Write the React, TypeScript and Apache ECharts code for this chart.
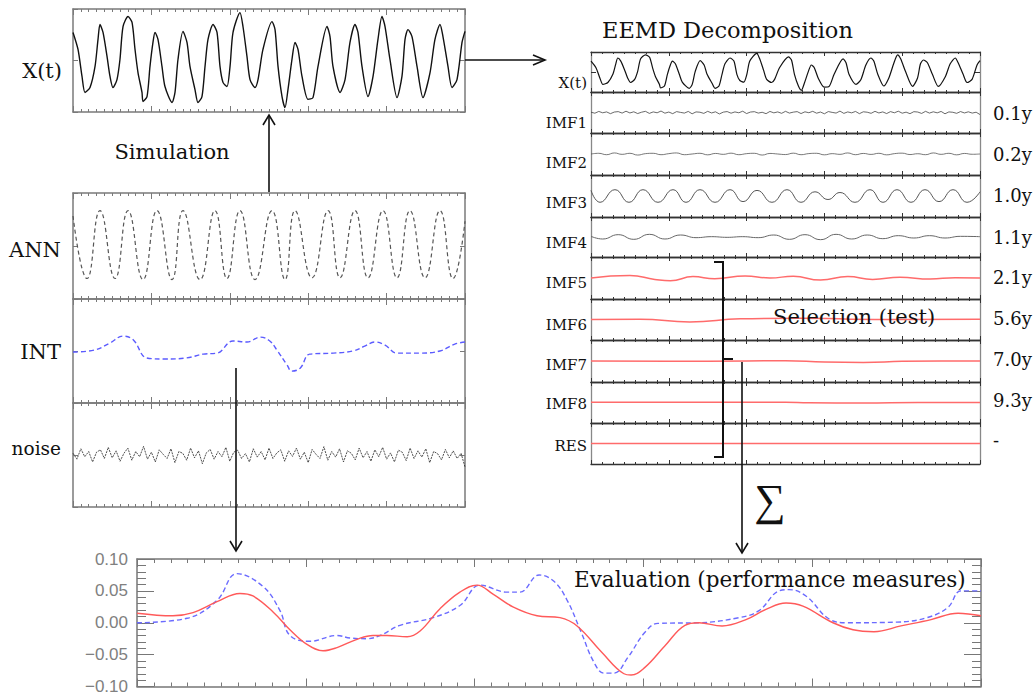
import React, { useEffect, useRef } from "react";
import * as echarts from "echarts";

// ---------- data (time axis 0..500 samples) ----------
const xtT = [0,6.4,11.5,15.3,21.7,28.1,31.9,34.4,38.3,43.4,47.2,51.0,56.1,59.9,63.8,70.2,75.3,79.1,82.9,88.0,89.3,94.4,98.2,102.0,104.6,108.4,113.5,117.3,126.3,130.1,133.9,140.3,145.4,149.2,155.6,159.4,164.5,168.4,172.2,178.6,183.7,187.5,191.3,196.4,200.3,204.1,213.0,216.8,221.9,225.8,232.1,236.0,242.3,253.8,257.7,261.5,266.6,270.4,274.2,279.3,283.2,287.0,292.1,299.7,306.1,312.5,324.0,327.8,331.6,340.6,347.0,353.3,359.7,363.5,368.6,376.3,382.7,389.0,394.1,398.0,404.3,413.3,419.6,423.5,427.3,432.4,438.8,446.4,455.4,461.7,468.1,471.9,478.3,483.4,489.8,496.2,500];
const xtV = [1.09,0.43,-0.62,-1.24,-1.05,-0.23,0.82,1.40,1.09,0.16,-0.62,-1.05,-0.74,0.04,1.32,1.71,1.48,0.43,-0.47,-1.24,-1.59,-1.40,-0.23,0.70,1.09,0.82,-0.23,-1.01,-1.63,-1.24,0.04,1.13,0.70,-0.23,-1.13,-1.63,-1.40,-0.23,0.82,1.40,1.09,-0.23,-0.85,-1.01,-0.23,1.09,1.86,1.32,0.16,-0.74,-1.05,-0.74,0.43,1.51,1.20,-0.23,-1.40,-1.83,-1.13,0.04,0.70,0.43,-0.62,-1.51,-1.44,-0.23,1.32,0.93,-0.23,-1.24,-0.74,0.70,1.40,1.09,-0.23,-1.40,-0.62,0.82,1.71,1.32,0.04,-1.44,-0.62,0.82,1.20,0.93,-0.23,-1.44,-0.47,0.82,1.40,0.93,-0.23,-1.05,-0.74,0.70,1.13];

const annT = [0,17.9,34.4,53.6,70.2,89.3,107.1,126.3,140.3,162.0,181.1,196.4,213.0,232.1,253.8,270.4,283.2,304.8,325.3,340.6,359.7,376.3,395.4,413.3,429.8,449.0,468.1,484.7,500];
const annV = [0.85,-0.92,1,-0.92,1,-0.95,1,-0.95,1,-0.95,1,-0.92,1,-0.95,1,-0.95,1,-0.9,1,-0.9,1,-0.9,1,-0.9,1,-0.9,1,-0.92,0.7];

const intT = [0,28,47,64,77,94,117,145,166,184,204,222,239,251,260,273,279,290,302,332,357,372,385,398,413,443,468,487,500];
const intV = [-0.03,0.03,0.23,0.43,0.32,-0.2,-0.23,-0.2,-0.09,-0.06,0.29,0.26,0.40,0.29,0.03,-0.40,-0.58,-0.49,-0.09,-0.06,0.0,0.14,0.26,0.17,-0.06,-0.06,0.0,0.2,0.26];

const noiseV = [0.05,-0.12,0.18,-0.05,0.1,-0.2,0.08,0.15,-0.1,0.22,-0.08,0.12,-0.18,0.05,0.2,-0.15,0.1,-0.05,0.25,-0.12,0.08,-0.2,0.15,0.02,-0.1,0.18,-0.22,0.1,0.05,-0.15,0.2,-0.08,0.12,-0.25,0.06,0.16,-0.12,0.1,-0.05,0.22,-0.18,0.08,0.14,-0.1,0.04,-0.2,0.18,-0.06,0.1,-0.14,0.2,-0.1,0.06,0.15,-0.18,0.12,-0.04,0.2,-0.12,0.08,-0.22,0.16,0.02,-0.1,0.24,-0.15,0.1,-0.06,0.18,-0.2,0.12,0.05,-0.14,0.2,-0.08,0.1,-0.18,0.15,-0.05,0.22,-0.12,0.06,-0.2,0.14,0.08,-0.16,0.2,-0.1,0.12,-0.06,0.18,-0.22,0.1,0.04,-0.14,0.16,-0.08,0.12,-0.1,0.05,-0.35];

const imf2V = [0,0.1,-0.1,0.15,-0.05,0.1,-0.15,0.05,0.1,-0.1,0.05,0.15,-0.1,0,0.1,-0.12,0.08,-0.05,0.12,-0.1,0.05,0.1,-0.15,0.08,0,-0.08,0.12,-0.1,0.06,0.1,-0.12,0.05,-0.05,0.15,-0.1,0.08,-0.06,0.1,-0.12,0.05,0.12,-0.08,0.04,-0.1,0.15,-0.05,0.1,-0.12,0.08,-0.04,0.0];

const imf3T = [0,11.6,30.8,48.8,66.8,86.1,105.4,122.1,140.1,159.4,178.7,195.4,213.4,232.6,251.9,269.9,287.9,304.6,320.0,339.3,358.6,375.3,393.3,411.3,429.3,447.3,465.3,483.3,500];
const imf3V = [0.8,-0.9,0.9,-0.9,0.9,-0.9,0.9,-0.9,0.9,-0.9,0.9,-0.8,0.8,-0.9,0.9,-0.9,0.6,-0.5,0.5,-0.9,0.9,-0.9,0.9,-0.9,0.9,-0.8,0.9,-0.9,0.6];

const imf4T = [0,15,35,55,75,95,115,135,155,175,195,215,235,255,275,295,315,335,355,375,395,415,435,455,475,500];
const imf4V = [0.1,-0.3,0.35,-0.35,0.4,-0.3,0.3,-0.1,0.05,-0.05,0.05,-0.1,0.3,-0.35,0.35,-0.4,0.4,-0.3,0.3,-0.25,0.2,-0.15,0.2,-0.15,0.1,0.05];

const imf5T = [0,50,82,102,131,159,198,230,260,295,330,362,397,436,468,500];
const imf5V = [0,0.35,-0.2,-0.4,0.2,-0.1,0.3,0.0,0.25,-0.3,0.2,-0.2,0.1,-0.15,0.05,0.0];
const imf6T = [0,63,127,192,269,333,397,500];
const imf6V = [0.0,0.05,-0.35,0.1,0.2,0.05,0.0,0.05];
const imf7T = [0,100,200,250,300,350,400,450,500];
const imf7V = [0,-0.05,0,0.05,-0.15,-0.2,-0.05,0,0];
const imf8T = [0,250,280,350,420,500];
const imf8V = [0.05,0.05,-0.05,-0.08,0,0];
const resT = [0,500];
const resV = [0,0];

const evalIntT = [0,29.6,47.4,59.2,74.6,84.7,90.6,102.5,118.5,126.2,136.3,144.0,155.8,175.4,191.3,203.2,219.2,226.9,238.2,247.0,254.7,263.0,270.7,276.7,282.6,290.9,300.9,308.6,332.9,356.6,368.5,380.3,386.3,396.3,410.5,420.6,450.2,468.0,480.4,488.1,500];
const evalIntV = [0.000,0.007,0.035,0.077,0.057,0.019,-0.020,-0.029,-0.020,-0.024,-0.025,-0.020,-0.004,0.008,0.027,0.059,0.048,0.048,0.075,0.065,0.036,-0.014,-0.062,-0.079,-0.079,-0.054,-0.015,-0.001,0.000,0.008,0.019,0.050,0.052,0.042,0.005,0.000,0.001,0.008,0.024,0.050,0.050];
const evalSelT = [0,21.3,33.2,47.4,61.0,68.7,80.6,90.6,100.7,110.2,118.5,130.3,139.8,148.1,160.0,167.7,179.5,191.3,201.4,210.9,222.7,237.0,250.6,260.7,274.9,288.5,292.7,300.9,312.8,324.6,332.9,346.6,360.8,372.6,384.5,394.5,412.3,424.2,436.6,452.6,470.4,486.4,500];
const evalSelV = [0.015,0.011,0.016,0.033,0.046,0.042,0.017,-0.011,-0.034,-0.044,-0.039,-0.026,-0.020,-0.020,-0.022,-0.013,0.022,0.048,0.059,0.045,0.025,0.011,0.008,-0.005,-0.045,-0.080,-0.082,-0.070,-0.036,-0.004,0.000,-0.005,0.005,0.021,0.031,0.026,0.000,-0.011,-0.014,-0.005,0.005,0.015,0.011];

const eemdLabels = ["X(t)", "IMF1", "IMF2", "IMF3", "IMF4", "IMF5", "IMF6", "IMF7", "IMF8", "RES"];
const periodLabels = ["0.1y", "0.2y", "1.0y", "1.1y", "2.1y", "5.6y", "7.0y", "9.3y", "-"];
const evalTicks = [-0.1, -0.05, 0, 0.05, 0.1];

const SERIF = "DejaVu Serif";
const SERIF2 = "Liberation Serif";
const SANS = "Liberation Sans";

const pairs = (t: number[], v: number[]) => t.map((x, i) => [x, v[i]]);
const byIndex = (v: number[]) => v.map((y, i) => [(i * 500) / (v.length - 1), y]);

export default function App() {
  const ref = useRef<HTMLDivElement>(null);
  useEffect(() => {
    document.body.style.margin = "0";
    const chart = echarts.init(ref.current!, null, { renderer: "svg" });
    const grid: any[] = [];
    const xAxis: any[] = [];
    const yAxis: any[] = [];
    const series: any[] = [];

    const addPanel = (p: any) => {
      const gi = grid.length;
      grid.push({ left: p.left, top: p.top, width: p.width, height: p.height });
      const xi = xAxis.length;
      for (const pos of ["bottom", "top"]) {
        xAxis.push({
          gridIndex: gi, type: "value", position: pos, min: 0, max: 500, interval: 100,
          axisLine: { show: true, onZero: false, lineStyle: { color: p.frame, width: p.frameW } },
          axisTick: { show: true, inside: true, length: p.tickLen, lineStyle: { color: p.frame, width: 1 } },
          minorTick: { show: true, splitNumber: p.minorSplit, length: p.minorLen, lineStyle: { color: p.frame, width: 1 } },
          axisLabel: { show: false }, splitLine: { show: false },
        });
      }
      const yi = yAxis.length;
      for (const pos of ["left", "right"]) {
        yAxis.push({
          gridIndex: gi, type: "value", position: pos, min: p.yMin, max: p.yMax, interval: p.yInterval,
          axisLine: { show: true, onZero: false, lineStyle: { color: p.side || p.frame, width: p.frameW } },
          axisTick: { show: !!p.yTicks, inside: true, length: 5, lineStyle: { color: p.frame, width: 1 } },
          axisLabel: { show: false }, splitLine: { show: false },
        });
      }
      return { xi, yi };
    };
    const addLine = (ax: any, data: any[], color: string, width: number, extra: any = {}) => {
      series.push({
        type: "line", xAxisIndex: ax.xi, yAxisIndex: ax.yi, data, symbol: "none", silent: true,
        lineStyle: { color, width, type: extra.dash || "solid" }, smooth: extra.smooth || false,
      });
    };

    // left column
    const leftBase = { left: 73, width: 392, frame: "#7a7a7a", frameW: 1.5, tickLen: 6, minorLen: 3, minorSplit: 10, yTicks: true };
    const pXt = addPanel({ ...leftBase, top: 9, height: 103, yMin: -2, yMax: 2, yInterval: 2 });
    addLine(pXt, pairs(xtT, xtV), "#111", 1.4, { smooth: 0.25 });
    const pAnn = addPanel({ ...leftBase, top: 193, height: 106, yMin: -1.5, yMax: 1.5, yInterval: 1.5 });
    addLine(pAnn, pairs(annT, annV), "#555", 1.2, { smooth: 0.5, dash: [4, 3] });
    const pInt = addPanel({ ...leftBase, top: 299, height: 104, yMin: -1.5, yMax: 1.5, yInterval: 1.5 });
    addLine(pInt, pairs(intT, intV), "#5b5bff", 1.4, { smooth: 0.4, dash: [5, 3] });
    const pNoise = addPanel({ ...leftBase, top: 403, height: 104, yMin: -1.5, yMax: 1.5, yInterval: 1.5 });
    addLine(pNoise, byIndex(noiseV), "#222", 0.8, { dash: [2, 1] });

    // EEMD column
    const tops = [52, 92, 133, 175, 217, 257, 299, 340, 382, 423, 464];
    const eemdBase = { left: 591, width: 389, frame: "#333", side: "#888", frameW: 1.3, tickLen: 4, minorLen: 2, minorSplit: 7 };
    const eemdPanels = tops.slice(0, 10).map((t, i) =>
      addPanel({
        ...eemdBase, top: t, height: tops[i + 1] - t,
        yMin: i === 0 ? -2 : i === 1 ? -3.5 : -3, yMax: i === 0 ? 2 : i === 1 ? 3.5 : 3,
        yInterval: i === 0 ? 2 : i === 1 ? 3.5 : 3, yTicks: i === 0,
      })
    );
    const red = "#ff6b6b";
    addLine(eemdPanels[0], pairs(xtT, xtV), "#111", 1.2, { smooth: 0.25 });
    addLine(eemdPanels[1], byIndex(noiseV), "#444", 0.8);
    addLine(eemdPanels[2], byIndex(imf2V), "#555", 0.8, { smooth: 0.5 });
    addLine(eemdPanels[3], pairs(imf3T, imf3V), "#555", 1, { smooth: 0.5 });
    addLine(eemdPanels[4], pairs(imf4T, imf4V), "#666", 1, { smooth: 0.5 });
    addLine(eemdPanels[5], pairs(imf5T, imf5V), red, 1.5, { smooth: 0.5 });
    addLine(eemdPanels[6], pairs(imf6T, imf6V), red, 1.5, { smooth: 0.5 });
    addLine(eemdPanels[7], pairs(imf7T, imf7V), red, 1.5, { smooth: 0.5 });
    addLine(eemdPanels[8], pairs(imf8T, imf8V), red, 1.5, { smooth: 0.5 });
    addLine(eemdPanels[9], pairs(resT, resV), red, 1.5);

    // evaluation chart
    const gi = grid.length;
    grid.push({ left: 137, top: 559, width: 844, height: 131 });
    const evx = xAxis.length;
    for (const pos of ["bottom", "top"]) {
      xAxis.push({
        gridIndex: gi, type: "value", position: pos, min: 0, max: 500, interval: 100,
        axisLine: { show: true, onZero: false, lineStyle: { color: "#777", width: 1.5 } },
        axisTick: { show: true, inside: true, length: 8, lineStyle: { color: "#777" } },
        minorTick: { show: true, splitNumber: 10, length: 4, lineStyle: { color: "#777" } },
        axisLabel: { show: false }, splitLine: { show: false },
      });
    }
    const evy = yAxis.length;
    for (const pos of ["left", "right"]) {
      yAxis.push({
        gridIndex: gi, type: "value", position: pos,
        min: evalTicks[0], max: evalTicks[evalTicks.length - 1], interval: 0.05,
        axisLine: { show: true, onZero: false, lineStyle: { color: "#777", width: 1.5 } },
        axisTick: { show: true, inside: true, length: 17, lineStyle: { color: "#777" } },
        minorTick: { show: true, splitNumber: 5, length: 9, lineStyle: { color: "#777" } },
        axisLabel: {
          show: pos === "left", margin: 9, color: "#808080", fontSize: 17, fontFamily: SANS,
          formatter: (v: number) => (v < -1e-9 ? "\u2212" : "") + Math.abs(v).toFixed(2),
        },
        splitLine: { show: false },
      });
    }
    const pEval = { xi: evx, yi: evy };
    addLine(pEval, pairs(evalIntT, evalIntV), "#6b6bff", 1.4, { smooth: 0.4, dash: [5, 3] });
    addLine(pEval, pairs(evalSelT, evalSelV), "#ff5a5a", 1.4, { smooth: 0.4 });

    // annotations
    const txt = (text: string, x: number, y: number, size: number, align = "left", family = SERIF) => ({
      type: "text", x, y, z: 100, silent: true,
      style: { text, fontSize: size, fontFamily: family, fill: "#111", align, verticalAlign: "middle" },
    });
    const ln = (x1: number, y1: number, x2: number, y2: number, w = 1.6) => ({
      type: "line", z: 100, silent: true, shape: { x1, y1, x2, y2 }, style: { stroke: "#111", lineWidth: w },
    });
    const pl = (points: number[][], w = 1.6) => ({
      type: "polyline", z: 100, silent: true, shape: { points }, style: { stroke: "#111", lineWidth: w, fill: null },
    });
    const labelYs = [83, 123, 163, 203, 243, 283, 325, 365, 404, 446];
    const periodYs = [113, 154, 195, 237, 277, 318, 359, 400, 440];
    const graphic: any[] = [
      txt("X(t)", 62, 71, 21, "right"),
      txt("Simulation", 172, 152, 21, "center"),
      txt("ANN", 61, 250, 21, "right"),
      txt("INT", 61, 352, 21, "right"),
      txt("noise", 61, 448, 18.5, "right"),
      txt("EEMD Decomposition", 602, 30, 22.5),
      txt("Selection (test)", 773, 317, 21),
      txt("\u2211", 770, 500, 44, "center", SERIF2),
      txt("Evaluation (performance measures)", 574, 579, 21.5),
      ...eemdLabels.map((l, i) => txt(l, 587, labelYs[i], 15, "right")),
      ...periodLabels.map((l, i) => txt(l, 993, periodYs[i], 18)),
      ln(465, 60, 545, 60), pl([[533, 55], [545, 60], [533, 65]]),
      ln(269, 192, 269, 115), pl([[263, 125], [269, 115], [275, 125]]),
      ln(236, 368, 236, 551), pl([[230, 541], [236, 551], [242, 541]]),
      ln(742, 362, 742, 553), pl([[736, 543], [742, 553], [748, 543]]),
      pl([[714, 262], [723, 262], [723, 457], [714, 457]], 2),
      ln(723, 359, 733, 359, 2),
    ];

    chart.setOption({ animation: false, backgroundColor: "#fff", grid, xAxis, yAxis, series, graphic });
    return () => chart.dispose();
  }, []);
  return <div ref={ref} style={{ width: 1035, height: 695 }} />;
}
